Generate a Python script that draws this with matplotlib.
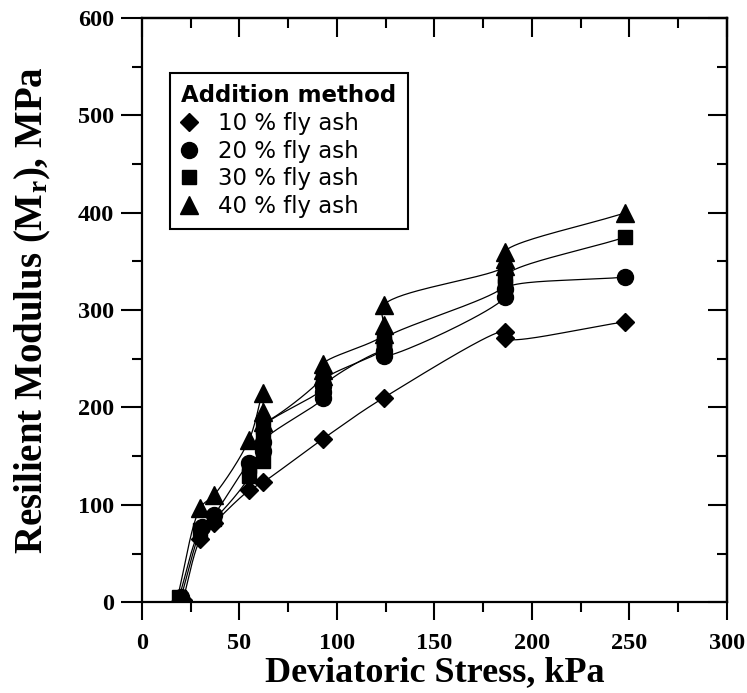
import numpy as np
import matplotlib
matplotlib.use("Agg")
import matplotlib.pyplot as plt
from matplotlib.ticker import MultipleLocator
from matplotlib.lines import Line2D

# ---- data (order = order of the fitted curve) ----
fa10_x = [21, 30, 37, 55, 62, 93, 124, 186, 186, 248]
fa10_y = [2, 65, 81, 115, 123, 168, 210, 278, 271, 288]
fa20_x = [20, 31, 37, 55, 62, 62, 93, 93, 93, 124, 124, 186, 186, 248]
fa20_y = [5, 77, 90, 143, 155, 165, 210, 216, 222, 258, 253, 313, 322, 334]
fa30_x = [19, 30, 37, 55, 55, 62, 62, 62, 62, 93, 93, 124, 124, 124, 186, 186, 248]
fa30_y = [5, 74, 85, 130, 140, 145, 158, 170, 180, 220, 228, 260, 265, 270, 325, 335, 375]
fa40_x = [18, 30, 37, 55, 62, 62, 62, 93, 93, 93, 124, 124, 124, 186, 186, 186, 248]
fa40_y = [3, 97, 110, 167, 215, 195, 185, 232, 238, 245, 275, 285, 305, 345, 352, 360, 400]

labels = ["10 % fly ash", "20 % fly ash", "30 % fly ash", "40 % fly ash"]
markers = ["D", "o", "s", "^"]
msizes = [9.5, 11.5, 10.5, 13]
xticks = [0, 50, 100, 150, 200, 250, 300]
yticks = [0, 100, 200, 300, 400, 500, 600]


def smooth(xs, ys, sx=1.95, sy=0.973, n=40, alpha=0.5):
    """Centripetal Catmull-Rom curve through the points (drawing only)."""
    P = np.column_stack([np.asarray(xs, float) * sx, np.asarray(ys, float) * sy])
    P = np.vstack([2 * P[0] - P[1], P, 2 * P[-1] - P[-2]])
    out = []
    for i in range(1, len(P) - 2):
        p0, p1, p2, p3 = P[i - 1], P[i], P[i + 1], P[i + 2]

        def tj(ti, a, b):
            return ti + max(np.linalg.norm(b - a), 1e-6) ** alpha

        t0 = 0.0
        t1 = tj(t0, p0, p1)
        t2 = tj(t1, p1, p2)
        t3 = tj(t2, p2, p3)
        t = np.linspace(t1, t2, n)[:, None]
        A1 = (t1 - t) / (t1 - t0) * p0 + (t - t0) / (t1 - t0) * p1
        A2 = (t2 - t) / (t2 - t1) * p1 + (t - t1) / (t2 - t1) * p2
        A3 = (t3 - t) / (t3 - t2) * p2 + (t - t2) / (t3 - t2) * p3
        B1 = (t2 - t) / (t2 - t0) * A1 + (t - t0) / (t2 - t0) * A2
        B2 = (t3 - t) / (t3 - t1) * A2 + (t - t1) / (t3 - t1) * A3
        C = (t2 - t) / (t2 - t1) * B1 + (t - t1) / (t2 - t1) * B2
        out.append(C)
    C = np.vstack(out)
    return C[:, 0] / sx, C[:, 1] / sy


plt.rcParams["font.family"] = ["Liberation Serif", "DejaVu Serif"]
plt.rcParams["font.weight"] = "bold"
plt.rcParams["mathtext.default"] = "regular"

fig = plt.figure(figsize=(7.47, 6.93), dpi=100)
ax = fig.add_axes([0.190, 0.131, 0.783, 0.843])

series = [(fa10_x, fa10_y), (fa20_x, fa20_y), (fa30_x, fa30_y), (fa40_x, fa40_y)]
for (xs, ys), m, ms in zip(series, markers, msizes):
    cx, cy = smooth(xs, ys)
    ax.plot(cx, cy, color="black", lw=0.9, zorder=2)
    ax.plot(xs, ys, linestyle="none", marker=m, ms=ms, color="black", zorder=3)

ax.set_xlim(0, 300)
ax.set_ylim(0, 600)
ax.set_xticks(xticks)
ax.set_yticks(yticks)
ax.xaxis.set_minor_locator(MultipleLocator(25))
ax.yaxis.set_minor_locator(MultipleLocator(50))
ax.tick_params(which="major", direction="out", length=15, width=1.5,
               labelsize=17.5, pad=5)
ax.tick_params(axis="x", which="major", length=13, pad=9)
ax.tick_params(which="minor", direction="out", length=7.5, width=1.5)
for s in ax.spines.values():
    s.set_linewidth(1.6)

for lab in ax.get_xticklabels() + ax.get_yticklabels():
    lab.set_fontweight("bold")

# inward ticks on top and right
top = ax.secondary_xaxis("top")
top.set_xticks(xticks)
top.xaxis.set_minor_locator(MultipleLocator(25))
top.tick_params(which="major", direction="in", length=14, width=1.5, labeltop=False)
top.tick_params(which="minor", direction="in", length=7.5, width=1.5)
right = ax.secondary_yaxis("right")
right.set_yticks(yticks)
right.yaxis.set_minor_locator(MultipleLocator(50))
right.tick_params(which="major", direction="in", length=14, width=1.5, labelright=False)
right.tick_params(which="minor", direction="in", length=7.5, width=1.5)
for sa in (top, right):
    for s in sa.spines.values():
        s.set_linewidth(1.6)

ax.set_xlabel("Deviatoric Stress, kPa", fontsize=26, fontweight="bold", labelpad=2)
ax.set_ylabel("Resilient Modulus (M$_{r}$), MPa", fontsize=28, fontweight="bold", labelpad=18)

handles = [Line2D([], [], linestyle="none", marker=m, ms=ms, color="black")
           for m, ms in zip(markers, msizes)]
leg = ax.legend(handles, labels, title="Addition method", loc="upper left",
                bbox_to_anchor=(0.048, 0.906), borderaxespad=0,
                prop={"family": "DejaVu Sans", "size": 16.5, "weight": "normal"},
                title_fontproperties={"family": "DejaVu Sans", "size": 16.5, "weight": "bold"},
                alignment="left", fancybox=False, edgecolor="black", framealpha=1,
                handlelength=0.65, handletextpad=0.95, labelspacing=0.2,
                borderpad=0.5)
leg.get_frame().set_linewidth(1.5)

fig.savefig("out.png", dpi=100)
